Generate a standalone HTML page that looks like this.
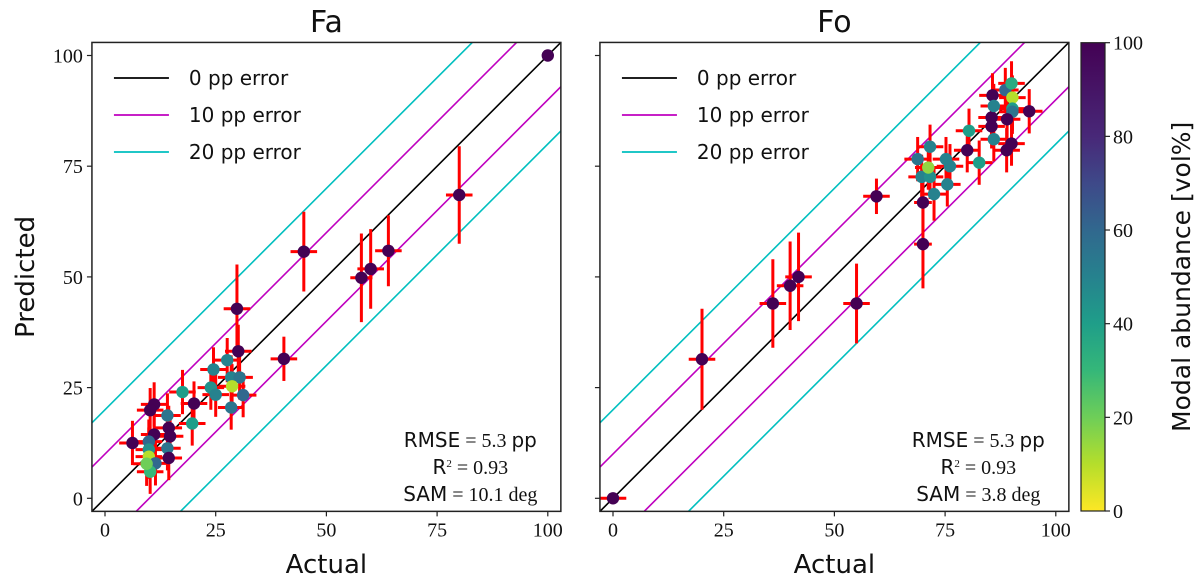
<!DOCTYPE html>
<html><head><meta charset="utf-8"><style>
html,body{margin:0;padding:0;background:#fff;width:1200px;height:582px;overflow:hidden}
svg{display:block}
.tick{font-family:"Liberation Serif",serif;font-size:20px;fill:#111}
.sans{font-family:"DejaVu Sans","Liberation Sans",sans-serif;fill:#111}
</style></head><body>
<svg id="chart" width="1200" height="582" viewBox="0 0 1200 582">
<defs>
<linearGradient id="viridis" x1="0" y1="1" x2="0" y2="0">
<stop offset="0" stop-color="#fde725"/><stop offset="0.1" stop-color="#b5de2b"/><stop offset="0.2" stop-color="#6ece58"/><stop offset="0.3" stop-color="#35b779"/><stop offset="0.4" stop-color="#1f9e89"/><stop offset="0.5" stop-color="#26828e"/><stop offset="0.6" stop-color="#31688e"/><stop offset="0.7" stop-color="#3e4989"/><stop offset="0.8" stop-color="#482878"/><stop offset="1" stop-color="#440154"/>
</linearGradient>
<clipPath id="clipL"><rect x="92" y="42.7" width="469" height="468.3"/></clipPath>
<clipPath id="clipR"><rect x="600" y="42.7" width="469" height="468.3"/></clipPath>
</defs>
</svg>
<script>
// Fa panel data
const faActual = [100,80,44.9,57.9,60,64,40.4,29.8,30.1,27.6,24.5,28.5,30.4,28.7,23.9,25,31.2,28.5,17.5,20.1,19.7,11.1,10.2,14.1,14.4,11.1,14.7,6.2,9.9,14.1,14.4,9.9,9.9,11.4,10.2,9.4];
const faPred = [100,68.5,55.7,49.8,51.8,55.9,31.5,42.8,33.2,31.2,29.1,27.3,27.3,25.3,25,23.4,23.3,20.5,24,21.4,16.9,21.2,19.9,18.7,15.9,14.4,14,12.5,12.8,11.3,9.1,11,9.4,7.9,6,7.8];
const faModal = [100,100,100,100,100,100,100,100,100,50,50,50,55,10,45,50,60,55,40,100,40,100,100,55,100,100,100,100,60,55,100,45,10,60,30,20];
const faXerr = [0,3,3,2.5,3,3,3,3,3,3,3,3,3,3,3,3,3,3,3,3,3,3,3,3,3,3,3,3,3,3,3,3,3,3,3,3];
const faYerr = [0,11,9,10,9,8,5,10,6,5,5,5,5,5,5,5,5,5,5,5,5,5,5,5,5,5,5,5,5,5,5,5,5,5,5,5];
// Fo panel data
const foActual = [0,20.1,36.1,40,41.9,55,59.5,70,70,72.5,75.5,69.7,71.6,71.2,68.8,71.6,75.2,76.1,80,80.4,82.7,86,85.5,85.5,85.7,86,88.6,90,90.2,90.2,90.2,89,94,90,88.9];
const foPred = [0,31.4,44,48,50,44,68.2,66.8,57.4,68.7,70.9,72.6,72.6,74.7,76.6,79.4,76.6,75,78.6,83,75.8,81.1,84,86,91,88.6,92.2,93.7,90.5,88,87.3,85.6,87.4,80.1,78.6];
const foModal = [100,100,100,100,100,100,100,100,100,50,50,50,45,15,55,50,50,50,100,40,40,50,100,100,100,50,60,35,10,40,55,100,100,100,100];
const foXerr = [3,3,3,3,3,3,3,2,2,3,3,3,3,3,3,3,3,3,3,3,3,3,3,3,3,3,3,3,3,3,3,3,3,3,3];
const foYerr = [0,11.4,10,10,10,9,4,7,10,6,5,5,5,5,5,5,5,5,5,5,5,5,5,5,5,5,5,5,5,5,5,5,5,5,5];
const axisTicks = [0,25,50,75,100];
const cbTicks = [0,20,40,60,80,100];
const errLines = [0,10,-10,20,-20];
const errLabels = ["0 pp error","10 pp error","20 pp error"];

const NS="http://www.w3.org/2000/svg";
const svg=document.getElementById('chart');
function mk(tag,attrs,parent){const e=document.createElementNS(NS,tag);for(const k in attrs)e.setAttribute(k,attrs[k]);(parent||svg).appendChild(e);return e;}
const vir=[[253,231,37],[181,222,43],[110,206,88],[53,183,121],[31,158,137],[38,130,142],[49,104,142],[62,73,137],[72,40,120],[70,20,100],[68,1,84]];
function cmap(v){const t=Math.max(0,Math.min(1,v/100))*10;const i=Math.min(9,Math.floor(t));const f=t-i;const a=vir[i],b=vir[i+1];return `rgb(${a.map((c,j)=>Math.round(c+(b[j]-c)*f)).join(',')})`;}
const Y0=498.3,SY=4.428, XMIN=-2.95, XMAX=102.95;
function yS(v){return Y0-v*SY;}

function panel(name,x0,left,title,xs,ys,cs,xe,ye,stats,clip){
  const g=mk('g',{},svg);
  
  
  const xS=v=>x0+v*SY;
  const lc={0:'#000',10:'#bf00bf','-10':'#bf00bf',20:'#00bfbf','-20':'#00bfbf'};
  const lg=mk('g',{'clip-path':`url(#${clip})`},g);
  errLines.forEach(o=>{
    const l=mk('line',{x1:xS(XMIN),y1:yS(XMIN+o),x2:xS(XMAX),y2:yS(XMAX+o),stroke:lc[o],'stroke-width':1.6},lg);
    
    
  });
  const eg=mk('g',{'clip-path':`url(#${clip})`},g);
  xs.forEach((x,i)=>{
    const y=ys[i];
    if(ye[i]>0){const l=mk('line',{x1:xS(x),x2:xS(x),y1:yS(y-ye[i]),y2:yS(y+ye[i]),stroke:'#ff0000','stroke-width':3},eg);
      }
    if(xe[i]>0){const l=mk('line',{x1:xS(x-xe[i]),x2:xS(x+xe[i]),y1:yS(y),y2:yS(y),stroke:'#ff0000','stroke-width':3},eg);
      }
  });
  xs.forEach((x,i)=>{
    const c=mk('circle',{cx:xS(x),cy:yS(ys[i]),r:6.2,fill:cmap(cs[i])},eg);
    
    
  });
  const fr=mk('rect',{x:xS(XMIN),y:yS(XMAX),width:(XMAX-XMIN)*SY,height:(XMAX-XMIN)*SY,fill:'none',stroke:'#222','stroke-width':1.5},g);
  
  axisTicks.forEach(t=>{
    mk('line',{x1:xS(t),x2:xS(t),y1:yS(XMIN),y2:yS(XMIN)+5,stroke:'#222','stroke-width':1.2},g);
    const tx=mk('text',{x:xS(t),y:yS(XMIN)+25,'text-anchor':'middle',class:'tick'},g);tx.textContent=t;
    
    mk('line',{x1:xS(XMIN)-5,x2:xS(XMIN),y1:yS(t),y2:yS(t),stroke:'#222','stroke-width':1.2},g);
    if(left){const ty=mk('text',{x:xS(XMIN)-9,y:yS(t)+7,'text-anchor':'end',class:'tick'},g);ty.textContent=t;
      }
  });
  const tt=mk('text',{x:xS(50),y:32,'text-anchor':'middle',class:'sans','font-size':30},g);tt.textContent=title;
  
  const xl=mk('text',{x:xS(50),y:573,'text-anchor':'middle',class:'sans','font-size':26},g);xl.textContent='Actual';
  
  if(left){const yl=mk('text',{x:0,y:0,transform:`translate(34,${yS(50)}) rotate(-90)`,'text-anchor':'middle',class:'sans','font-size':26},g);yl.textContent='Predicted';
    }
  // legend
  const lgd=mk('g',{},g);
  
  ['#000','#bf00bf','#00bfbf'].forEach((c,i)=>{
    const yy=78+i*37;
    mk('line',{x1:xS(XMIN)+22,x2:xS(XMIN)+77,y1:yy,y2:yy,stroke:c,'stroke-width':1.8},lgd);
    const lt=mk('text',{x:xS(XMIN)+97,y:yy+7,class:'sans','font-size':20},lgd);lt.textContent=errLabels[i];
    
  });
  const sg=mk('g',{},g);
  
  stats.forEach((s,i)=>{
    const st=mk('text',{x:xS(82.5),y:447+i*27,'text-anchor':'middle',class:'tick','font-size':17},sg);
    st.innerHTML=s;
  });
}
panel('fa',105,true,'Fa',faActual,faPred,faModal,faXerr,faYerr,
 ['<tspan font-family="DejaVu Sans,sans-serif">RMSE</tspan> = 5.3 <tspan font-family="DejaVu Sans,sans-serif">pp</tspan>','<tspan font-family="DejaVu Sans,sans-serif">R</tspan><tspan font-size="11" dy="-7">2</tspan><tspan dy="7"> = 0.93</tspan>','<tspan font-family="DejaVu Sans,sans-serif">SAM</tspan> = 10.1 deg'],'clipL');
panel('fo',613,false,'Fo',foActual,foPred,foModal,foXerr,foYerr,
 ['<tspan font-family="DejaVu Sans,sans-serif">RMSE</tspan> = 5.3 <tspan font-family="DejaVu Sans,sans-serif">pp</tspan>','<tspan font-family="DejaVu Sans,sans-serif">R</tspan><tspan font-size="11" dy="-7">2</tspan><tspan dy="7"> = 0.93</tspan>','<tspan font-family="DejaVu Sans,sans-serif">SAM</tspan> = 3.8 deg'],'clipR');

// colorbar
const cb=mk('g',{},svg);

const CT=42.7,CB=511;
mk('rect',{x:1081,y:CT,width:24,height:CB-CT,fill:'url(#viridis)',stroke:'#222','stroke-width':1.2},cb);
cbTicks.forEach(t=>{
  const yy=CB-(CB-CT)*t/100;
  mk('line',{x1:1105,x2:1110,y1:yy,y2:yy,stroke:'#222','stroke-width':1.2},cb);
  const tx=mk('text',{x:1113,y:yy+7,class:'tick'},cb);tx.textContent=t;
  
});
const cl=mk('text',{x:0,y:0,transform:`translate(1190,${(CT+CB)/2}) rotate(-90)`,'text-anchor':'middle',class:'sans','font-size':25},cb);
cl.textContent='Modal abundance [vol%]';

</script>
</body></html>
